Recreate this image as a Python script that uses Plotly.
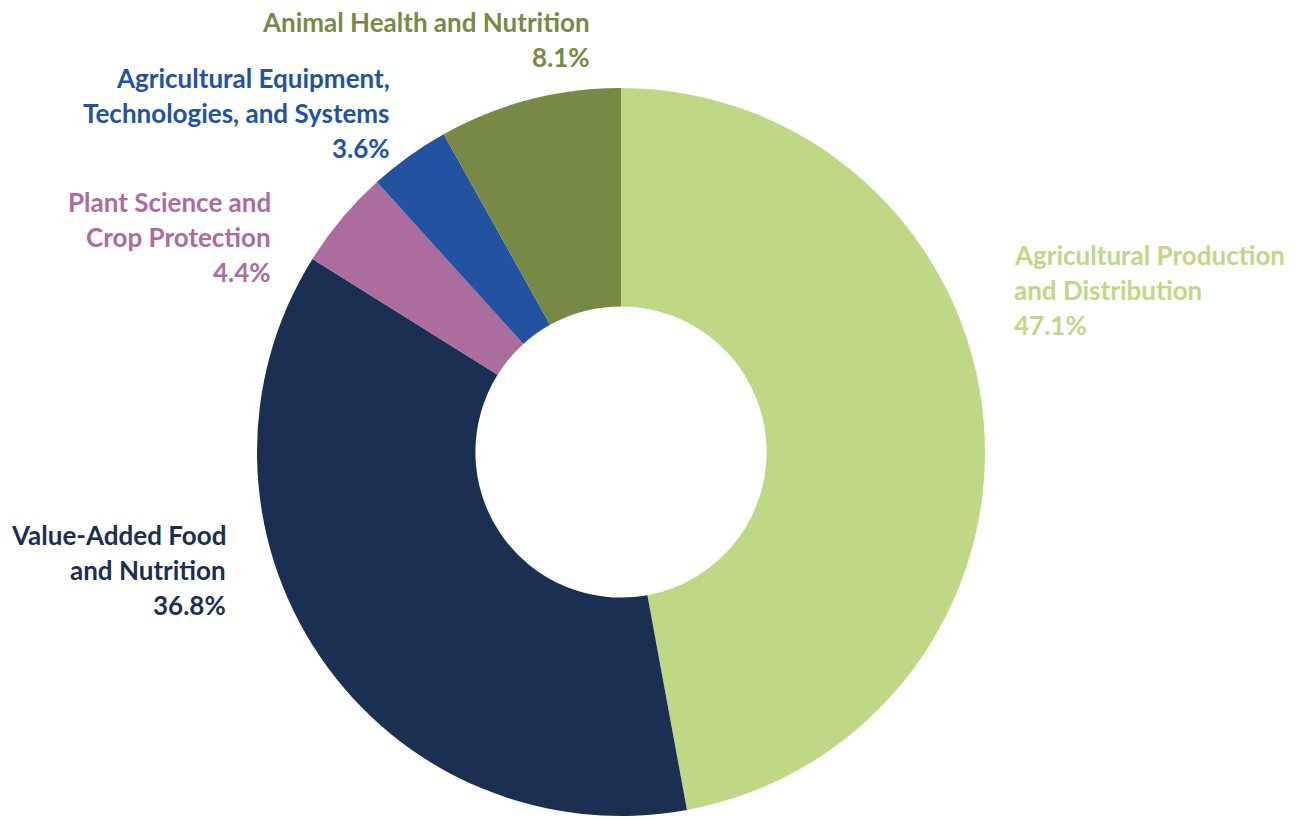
import plotly.graph_objects as go

categories = [
    "Agricultural Production and Distribution",
    "Value-Added Food and Nutrition",
    "Plant Science and Crop Protection",
    "Agricultural Equipment, Technologies, and Systems",
    "Animal Health and Nutrition",
]
shares = [47.1, 36.8, 4.4, 3.6, 8.1]
colors = ["#BED886", "#1B2F53", "#AB6C9E", "#2352A0", "#768A45"]

# label lines as shown in the chart
label_lines = [
    ["Agricultural Production", "and Distribution"],
    ["Value-Added Food", "and Nutrition"],
    ["Plant Science and", "Crop Protection"],
    ["Agricultural Equipment,", "Technologies, and Systems"],
    ["Animal Health and Nutrition"],
]

W, H = 1296, 818
cx, cy, R = 621, 452, 364

fig = go.Figure(go.Pie(
    labels=categories,
    values=shares,
    sort=False,
    direction="clockwise",
    rotation=0,
    hole=0.4,
    marker=dict(colors=colors, line=dict(width=0)),
    textinfo="none",
    hoverinfo="label+percent",
    domain=dict(x=[(cx - R) / W, (cx + R) / W],
                y=[(H - cy - R) / H, (H - cy + R) / H]),
    showlegend=False,
))

# label anchor positions (pixel): x edge, first line y, anchor side
label_pos = [
    (1012, 255, "left"),
    (228, 535, "right"),
    (273, 202, "right"),
    (392, 78, "right"),
    (592, 22, "right"),
]
line_gap = 35

annotations = []
for i, (lines, (x, y0, side)) in enumerate(zip(label_lines, label_pos)):
    texts = lines + [f"{shares[i]}%"]
    for j, t in enumerate(texts):
        annotations.append(dict(
            x=x / W, y=1 - (y0 + j * line_gap) / H,
            xref="paper", yref="paper",
            text=t, showarrow=False,
            xanchor=side, yanchor="middle", align=side,
            font=dict(family="Lato", size=26, color=colors[i], weight=700),
        ))

fig.update_layout(
    width=W, height=H,
    margin=dict(l=0, r=0, t=0, b=0),
    paper_bgcolor="white",
    plot_bgcolor="white",
    annotations=annotations,
)

fig.write_html("out.html")
